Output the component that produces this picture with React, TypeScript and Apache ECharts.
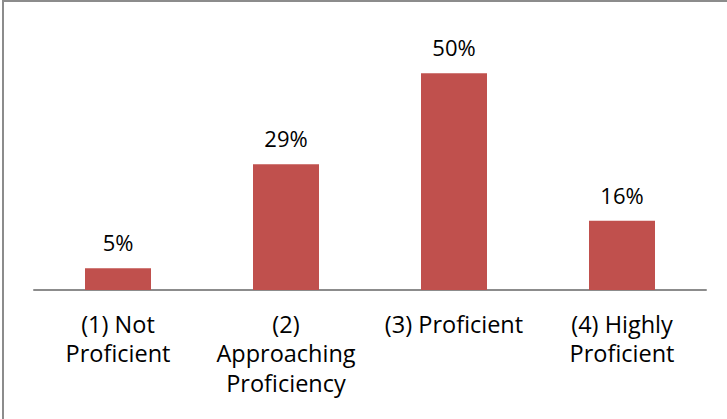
import React, { useEffect, useRef } from "react";
import * as echarts from "echarts";

const categories = ["(1) Not\nProficient", "(2)\nApproaching\nProficiency", "(3) Proficient", "(4) Highly\nProficient"];
const values = [5, 29, 50, 16];

export default function App() {
  const ref = useRef<HTMLDivElement>(null);
  useEffect(() => {
    const chart = echarts.init(ref.current!, undefined, { renderer: "svg" });
    const font = "'Open Sans', sans-serif";
    chart.setOption({
      animation: false,
      backgroundColor: "#ffffff",
      grid: { left: 34, right: 21, top: 30, bottom: 129, containLabel: false },
      xAxis: {
        type: "category",
        data: categories,
        axisLine: { lineStyle: { color: "#8c8c8c", width: 2 } },
        axisTick: { show: false },
        axisLabel: {
          interval: 0,
          margin: 19,
          fontFamily: font,
          fontSize: 23.5,
          color: "#000",
          lineHeight: 29.5,
          verticalAlign: "top",
        },
      },
      yAxis: {
        type: "value",
        min: 0,
        max: 60,
        show: false,
        splitLine: { show: false },
      },
      series: [
        {
          type: "bar",
          data: values,
          barWidth: 66,
          itemStyle: { color: "#c0504d" },
          label: {
            show: true,
            position: "top",
            distance: 15,
            formatter: "{c}%",
            fontFamily: font,
            fontSize: 22,
            color: "#000",
          },
        },
      ],
      graphic: [
        { type: "line", shape: { x1: 3, y1: 0, x2: 3, y2: 419 }, style: { stroke: "#8c8c8c", lineWidth: 2 } },
        { type: "line", shape: { x1: 3, y1: 1, x2: 727, y2: 1 }, style: { stroke: "#8c8c8c", lineWidth: 2 } },
      ],
    });
    return () => chart.dispose();
  }, []);
  return (
    <div
      ref={ref}
      style={{ position: "absolute", left: 0, top: 0, width: 727, height: 419 }}
    />
  );
}
